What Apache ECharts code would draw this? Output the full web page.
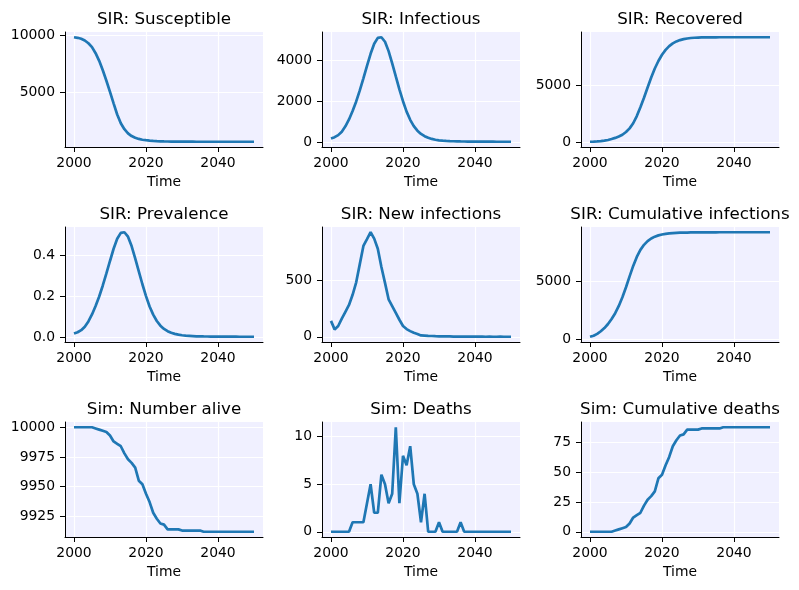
<!DOCTYPE html>
<html>
<head>
<meta charset="utf-8">
<script src="https://cdn.jsdelivr.net/npm/echarts@6/dist/echarts.min.js"></script>
<style>
html,body{margin:0;padding:0;background:#ffffff;}
#chart{width:799px;height:590px;}
</style>
</head>
<body>
<div id="chart"></div>
<script>
// ---------------- data ----------------
const years = [2000,2001,2002,2003,2004,2005,2006,2007,2008,2009,
  2010,2011,2012,2013,2014,2015,2016,2017,2018,2019,
  2020,2021,2022,2023,2024,2025,2026,2027,2028,2029,
  2030,2031,2032,2033,2034,2035,2036,2037,2038,2039,
  2040,2041,2042,2043,2044,2045,2046,2047,2048,2049,2050];

const susceptible = [9860,9810,9720,9570,9330,8990,8460,7790,6960,6040,
  5060,4060,3080,2320,1790,1430,1190,1040,940,870,
  830,795,765,745,730,720,713,708,704,701,
  699,697,696,695,694,693,692,692,691,691,
  691,691,690,690,690,690,690,690,690,690,690];

const infectious = [190,250,350,520,780,1120,1530,2000,2540,3130,
  3740,4330,4820,5110,5140,4920,4460,3860,3220,2590,
  2010,1500,1100,790,570,410,300,220,165,125,
  98,80,67,58,51,46,42,39,37,35,
  34,33,32,31,30,29,28,28,27,27,26];

const recovered = [20,30,50,80,120,180,260,360,480,640,
  880,1200,1650,2280,3050,3900,4800,5680,6470,7130,
  7680,8110,8440,8680,8850,8970,9050,9110,9150,9175,
  9190,9200,9206,9210,9213,9215,9216,9217,9218,9218,
  9219,9219,9220,9220,9220,9220,9220,9220,9220,9220,9220];

const prevalence = [0.019,0.025,0.035,0.052,0.078,0.112,0.153,0.200,0.254,0.313,
  0.374,0.434,0.483,0.512,0.515,0.493,0.447,0.387,0.323,0.260,
  0.202,0.151,0.111,0.080,0.057,0.041,0.030,0.022,0.017,0.013,
  0.010,0.008,0.007,0.006,0.005,0.0046,0.0042,0.0039,0.0037,0.0035,
  0.0034,0.0033,0.0032,0.0031,0.0030,0.0029,0.0028,0.0028,0.0027,0.0027,0.0026];

const newInfections = [140,65,95,160,220,280,370,480,640,800,
  860,921,865,775,615,475,330,270,210,150,
  95,68,50,35,25,12,10,8,7,5,
  4,4,3,3,2,2,2,2,1,1,
  1,1,1,0,1,0,0,1,0,0,0];

const cumInfections = [200,290,450,680,960,1310,1740,2250,2880,3630,
  4500,5450,6360,7140,7750,8190,8510,8740,8900,9010,
  9090,9145,9185,9212,9230,9243,9252,9259,9264,9268,
  9271,9274,9276,9278,9279,9280,9281,9282,9282,9283,
  9283,9284,9284,9284,9285,9285,9285,9285,9285,9285,9285];

const numberAlive = [10000,10000,10000,10000,10000,10000,9999,9998,9997,9996,
  9993,9988,9986,9984,9978,9973,9970,9966,9955,9952,
  9944,9937,9928,9923,9919,9918,9914,9914,9914,9914,
  9913,9913,9913,9913,9913,9913,9912,9912,9912,9912,
  9912,9912,9912,9912,9912,9912,9912,9912,9912,9912,9912];

const deaths = [0,0,0,0,0,0,1,1,1,1,
  3,5,2,2,6,5,3,4,11,3,
  8,7,9,5,4,1,4,0,0,0,
  1,0,0,0,0,0,1,0,0,0,
  0,0,0,0,0,0,0,0,0,0,0];

const cumDeaths = [0,0,0,0,0,0,0,1,2,3,
  4,7,12,14,16,22,27,30,34,45,
  48,56,63,72,77,81,82,86,86,86,
  86,87,87,87,87,87,87,88,88,88,
  88,88,88,88,88,88,88,88,88,88,88];

// titles
const titles = ['SIR: Susceptible','SIR: Infectious','SIR: Recovered',
  'SIR: Prevalence','SIR: New infections','SIR: Cumulative infections',
  'Sim: Number alive','Sim: Deaths','Sim: Cumulative deaths'];

// tick values
const xTicks = [2000, 2020, 2040];
const yTicksList = [
  [5000, 10000],
  [0, 2000, 4000],
  [0, 5000],
  [0, 0.2, 0.4],
  [0, 500],
  [0, 5000],
  [9925, 9950, 9975, 10000],
  [0, 5, 10],
  [0, 25, 50, 75]
];
const yDecimals = [0,0,0,1,0,0,0,0,0];
const xLabel = 'Time';

// ---------------- layout / style ----------------
const seriesList = [susceptible, infectious, recovered, prevalence, newInfections,
  cumInfections, numberAlive, deaths, cumDeaths];
const colLeft = [65, 322, 581];
const rowTop = [32, 227, 422];
const W = 198, H = 115;
const FONT = 'DejaVu Sans';
const BG = '#f0f0ff';
const LINE = '#1f77b4';

const xFirst = years[0], xLast = years[years.length - 1];
const xPad = 0.05 * (xLast - xFirst);

const option = {
  animation: false,
  backgroundColor: '#ffffff',
  title: titles.map((t, i) => ({
    text: t,
    left: colLeft[i % 3] + W / 2,
    top: rowTop[Math.floor(i / 3)] - 21,
    textAlign: 'center',
    textVerticalAlign: 'top',
    padding: 0,
    textStyle: {fontFamily: FONT, fontSize: 16.7, fontWeight: 'normal', color: '#000'}
  })),
  grid: titles.map((t, i) => ({
    left: colLeft[i % 3],
    top: rowTop[Math.floor(i / 3)],
    width: W,
    height: H,
    show: true,
    backgroundColor: BG,
    borderWidth: 0,
    containLabel: false,
    outerBoundsMode: 'none'
  })),
  xAxis: titles.map((t, i) => ({
    type: 'value',
    gridIndex: i,
    min: xFirst - xPad,
    max: xLast + xPad,
    name: xLabel,
    nameLocation: 'middle',
    nameGap: 28,
    nameTextStyle: {fontFamily: FONT, fontSize: 13.9, color: '#000'},
    axisLine: {show: true, onZero: false, lineStyle: {color: '#000', width: 1}},
    axisTick: {show: true, length: 5, customValues: xTicks, lineStyle: {color: '#000', width: 1}},
    axisLabel: {customValues: xTicks, formatter: v => String(v), margin: 9,
      fontFamily: FONT, fontSize: 13.9, color: '#000'},
    splitLine: {show: true, lineStyle: {color: '#ffffff', width: 1.2}}
  })),
  yAxis: titles.map((t, i) => ({
    type: 'value',
    gridIndex: i,
    scale: true,
    min: v => v.min - 0.05 * (v.max - v.min),
    max: v => v.max + 0.05 * (v.max - v.min),
    axisLine: {show: true, onZero: false, lineStyle: {color: '#000', width: 1}},
    axisTick: {show: true, length: 5, customValues: yTicksList[i], lineStyle: {color: '#000', width: 1}},
    axisLabel: {customValues: yTicksList[i], formatter: v => Number(v).toFixed(yDecimals[i]), margin: 10,
      fontFamily: FONT, fontSize: 13.9, color: '#000'},
    splitLine: {show: true, lineStyle: {color: '#ffffff', width: 1.2}}
  })),
  series: seriesList.map((s, i) => ({
    type: 'line',
    xAxisIndex: i,
    yAxisIndex: i,
    data: years.map((y, k) => [y, s[k]]),
    showSymbol: false,
    symbol: 'none',
    silent: true,
    lineStyle: {color: LINE, width: 2.7},
    itemStyle: {color: LINE}
  }))
};

const chart = echarts.init(document.getElementById('chart'), null, {renderer: 'canvas'});
chart.setOption(option);
</script>
</body>
</html>
